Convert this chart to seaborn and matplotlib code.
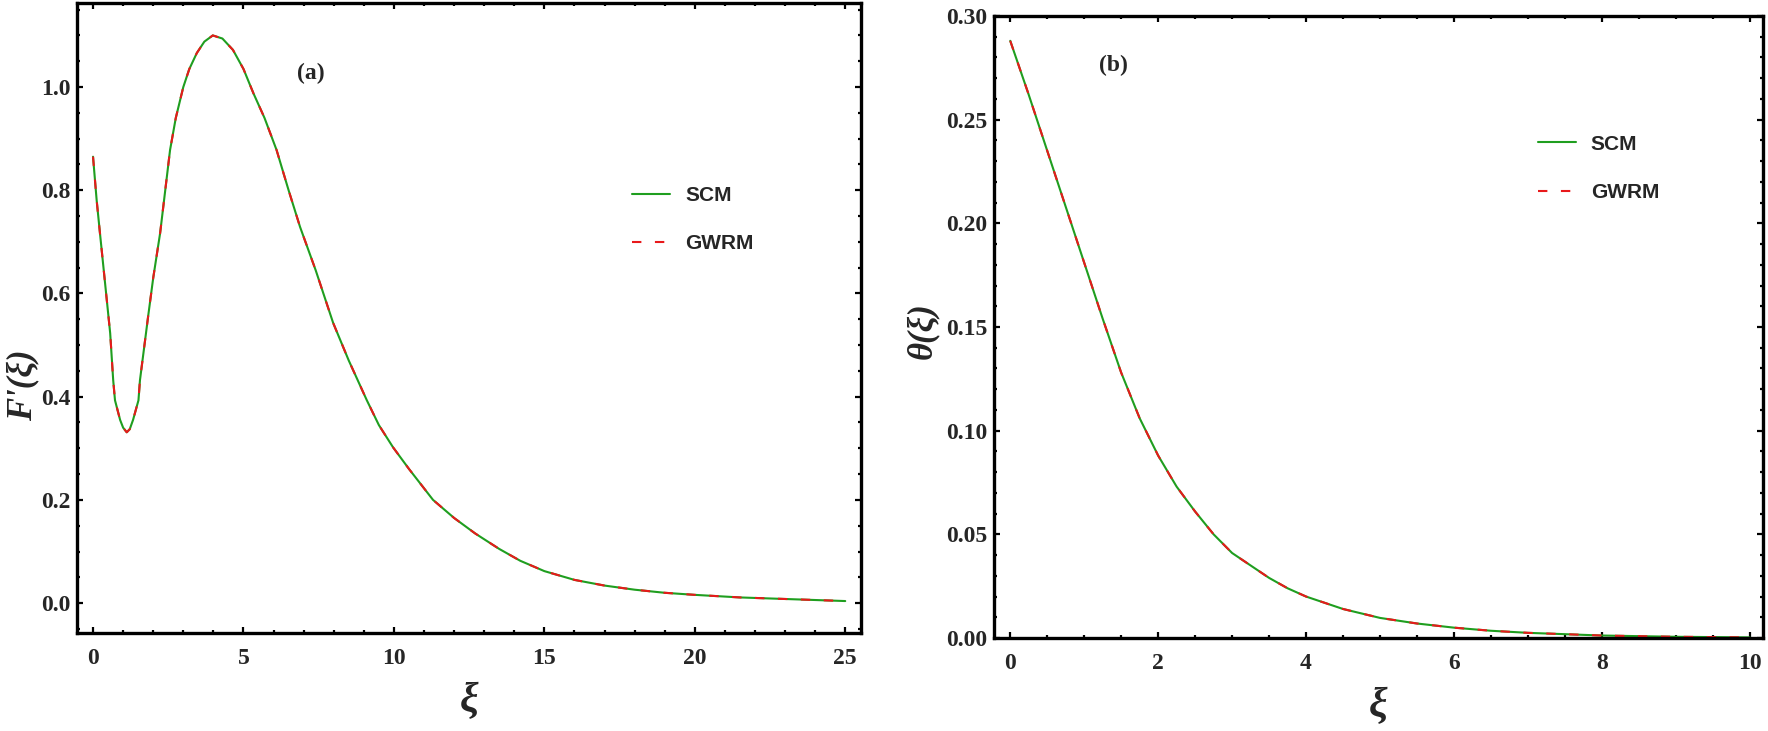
import numpy as np
import pandas as pd
import matplotlib
matplotlib.use("Agg")
import matplotlib.pyplot as plt
from matplotlib.ticker import MultipleLocator, FormatStrFormatter
import seaborn as sns

# %% data

# (a) velocity profile F'(xi)
xi_a = [0, 0.12, 0.23, 0.4, 0.57, 0.67, 0.73, 0.9, 1.0, 1.12, 1.22, 1.33,
        1.51, 1.56, 1.83, 2.0, 2.23, 2.4, 2.56, 2.75, 3.0, 3.2, 3.45, 3.7,
        3.98, 4.3, 4.65, 5.0, 5.33, 5.7, 6.1, 6.5, 6.88, 7.4, 7.98, 8.5, 9.1,
        9.5, 9.97, 10.5, 11.3, 12.0, 12.7, 13.5, 14.2, 15.0, 16.0, 17.0, 18.0,
        19.0, 20.0, 21.5, 23.0, 25.0]
fp_scm = [0.865, 0.781, 0.717, 0.62, 0.523, 0.432, 0.393, 0.355, 0.340,
          0.331, 0.337, 0.355, 0.393, 0.432, 0.555, 0.63, 0.717, 0.80, 0.878,
          0.94, 1.0, 1.035, 1.066, 1.088, 1.10, 1.094, 1.072, 1.035, 0.988,
          0.94, 0.878, 0.80, 0.729, 0.645, 0.543, 0.47, 0.393, 0.345, 0.302,
          0.26, 0.200, 0.165, 0.135, 0.105, 0.082, 0.062, 0.045, 0.034, 0.026,
          0.020, 0.016, 0.011, 0.008, 0.004]
fp_gwrm = fp_scm  # the two methods coincide

# (b) temperature profile theta(xi)
xi_b = [0, 0.25, 0.5, 0.75, 1.0, 1.25, 1.5, 1.75, 2.0, 2.25, 2.5, 2.75, 3.0,
        3.25, 3.5, 3.75, 4.0, 4.5, 5.0, 5.5, 6.0, 6.5, 7.0, 8.0, 9.0, 10.0]
th_scm = [0.288, 0.262, 0.235, 0.208, 0.181, 0.154, 0.128, 0.106, 0.088,
          0.073, 0.061, 0.050, 0.041, 0.035, 0.029, 0.024, 0.020, 0.014,
          0.0097, 0.007, 0.005, 0.0035, 0.0025, 0.0012, 0.0006, 0.0003]
th_gwrm = th_scm

methods = ["SCM", "GWRM"]

# %% plot

sns.set_theme(style="ticks")
plt.rcParams['font.family'] = ['Liberation Serif', 'DejaVu Serif']

fig = plt.figure(figsize=(17.68, 7.31), dpi=100)
ax1 = fig.add_axes([0.0436, 0.134, 0.4435, 0.862])
ax2 = fig.add_axes([0.5622, 0.1272, 0.435, 0.851])

green = "#1f9e1f"
red = "#e8191b"
leg_font = {'family': 'Liberation Sans', 'weight': 'bold', 'size': 15}
tick_font = 17


def draw(ax, x, y1, y2):
    df = pd.DataFrame({'xi': x + x, 'val': y1 + y2,
                       'method': [methods[0]] * len(x) + [methods[1]] * len(x)})
    sns.lineplot(data=df[df.method == "SCM"], x='xi', y='val', ax=ax,
                 color=green, lw=1.5, label="SCM", sort=False)
    sns.lineplot(data=df[df.method == "GWRM"], x='xi', y='val', ax=ax,
                 color=red, lw=1.5, label="GWRM", sort=False)
    ax.lines[1].set_dashes((4.5, 6.5))
    for s in ax.spines.values():
        s.set_visible(True)
        s.set_linewidth(2.4)
        s.set_color('black')
    ax.tick_params(which='both', direction='in', top=True, right=True,
                   width=1.6, color='black')
    ax.tick_params(which='major', length=4)
    ax.tick_params(which='minor', length=2.5)
    ax.tick_params(axis='x', pad=10.5)
    ax.tick_params(axis='y', pad=5)
    ax.legend(loc='upper left', frameon=False, prop=leg_font,
              handlelength=1.83, handletextpad=0.72, labelspacing=1.4,
              borderpad=0, borderaxespad=0)


draw(ax1, xi_a, fp_scm, fp_gwrm)
ax1.set_xlim(-0.53, 25.53)
ax1.set_ylim(-0.058, 1.163)
ax1.xaxis.set_major_locator(MultipleLocator(5))
ax1.xaxis.set_minor_locator(MultipleLocator(1))
ax1.yaxis.set_major_locator(MultipleLocator(0.2))
ax1.yaxis.set_minor_locator(MultipleLocator(0.05))
ax1.yaxis.set_major_formatter(FormatStrFormatter('%.1f'))
ax1.get_legend().set_bbox_to_anchor((0.708, 0.709), transform=ax1.transAxes)

draw(ax2, xi_b, th_scm, th_gwrm)
ax2.set_xlim(-0.22, 10.18)
ax2.set_ylim(0, 0.30)
ax2.xaxis.set_major_locator(MultipleLocator(2))
ax2.xaxis.set_minor_locator(MultipleLocator(0.5))
ax2.yaxis.set_major_locator(MultipleLocator(0.05))
ax2.yaxis.set_minor_locator(MultipleLocator(0.01))
ax2.yaxis.set_major_formatter(FormatStrFormatter('%.2f'))
ax2.get_legend().set_bbox_to_anchor((0.707, 0.809), transform=ax2.transAxes)

for ax in (ax1, ax2):
    for lab in ax.get_xticklabels() + ax.get_yticklabels():
        lab.set_fontweight('bold')
        lab.set_fontsize(tick_font)

xlab_kw = dict(fontsize=30, fontweight='bold', fontstyle='italic')
ylab_kw = dict(fontsize=25, fontweight='bold', fontstyle='italic')
ax1.set_xlabel("ξ", **xlab_kw)
ax1.set_ylabel("F'(ξ)", **ylab_kw)
ax2.set_xlabel("ξ", **xlab_kw)
ax2.set_ylabel("θ(ξ)", **ylab_kw)
ax1.xaxis.set_label_coords(0.5, -0.079)
ax2.xaxis.set_label_coords(0.5, -0.080)
ax1.yaxis.set_label_coords(-0.0485, 0.394)
ax2.yaxis.set_label_coords(-0.072, 0.495)

ax1.text(7.25, 1.027, "(a)", fontsize=17, fontweight='bold', ha='center', va='center')
ax2.text(1.4, 0.276, "(b)", fontsize=17, fontweight='bold', ha='center', va='center')

fig.savefig("out.png", dpi=100)
